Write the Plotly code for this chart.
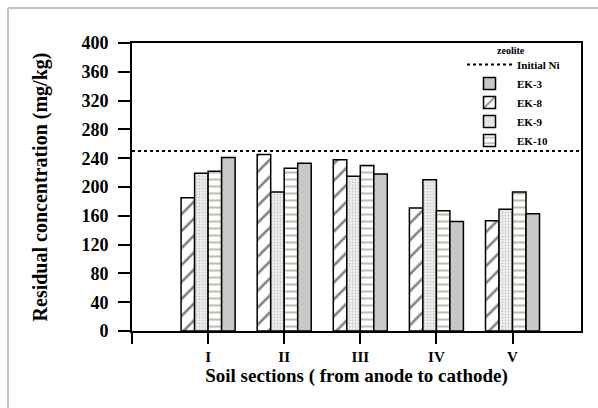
import plotly.graph_objects as go

# Soil section positions and labels
sections = [1, 2, 3, 4, 5]
section_labels = ["I", "II", "III", "IV", "V"]

# Residual Ni concentration (mg/kg) per section
ek8 = [185, 245, 238, 171, 153]
ek9 = [219, 193, 215, 210, 169]
ek10 = [222, 226, 230, 167, 193]
ek3 = [241, 233, 218, 152, 163]
initial_ni = 250

FONT = "Liberation Serif"

fig = go.Figure()

bar_specs = [
    ("EK-8", ek8, dict(color="white", pattern=dict(shape="/", fgcolor="black", bgcolor="white", size=12, solidity=0.22)), 3),
    ("EK-9", ek9, dict(color="#ececec", pattern=dict(shape=".", fgcolor="#a8a8a8", bgcolor="#efefef", size=3, solidity=0.3)), 4),
    ("EK-10", ek10, dict(color="white", pattern=dict(shape="-", fgcolor="#7f7d5e", bgcolor="white", size=7, solidity=0.3)), 5),
    ("EK-3", ek3, dict(color="#c8c8c8"), 2),
]
for name, vals, marker, rank in bar_specs:
    marker = dict(marker, line=dict(color="black", width=1.5))
    fig.add_trace(go.Bar(x=sections, y=vals, name=name, marker=marker, legendrank=rank))

fig.add_trace(go.Scatter(
    x=[0, 5.9], y=[initial_ni, initial_ni], mode="lines", name="Initial Ni",
    line=dict(color="black", width=2, dash="dot"), legendrank=1,
))

fig.update_layout(
    width=598, height=408,
    margin=dict(l=132, r=17, t=43, b=77),
    paper_bgcolor="white", plot_bgcolor="white",
    barmode="group", bargap=0.29, bargroupgap=0,
    font=dict(family=FONT, color="black"),
    legend=dict(
        x=0.735, y=0.976, xanchor="left", yanchor="top",
        bgcolor="rgba(0,0,0,0)", itemwidth=45, tracegroupgap=0,
        font=dict(family=FONT, size=11, weight="bold"),
    ),
    showlegend=True,
    annotations=[dict(
        text="zeolite", xref="paper", yref="paper", x=(511 - 132) / 449, y=(331 - 50) / 288,
        showarrow=False, xanchor="center", yanchor="middle",
        font=dict(family=FONT, size=10, weight="bold"),
    )],
)

fig.update_xaxes(
    range=[0, 5.9], tickmode="array",
    tickvals=[0] + sections, ticktext=[""] + section_labels,
    ticks="outside", ticklen=11, tickwidth=2, tickcolor="black",
    showline=True, linecolor="black", linewidth=2, mirror=True,
    showgrid=False, zeroline=False,
    tickfont=dict(family=FONT, size=15, weight="bold"),
    title=dict(text="Soil sections ( from anode to cathode)", standoff=2,
               font=dict(family=FONT, size=19, weight="bold")),
)
fig.update_yaxes(
    range=[0, 400], tickvals=list(range(0, 401, 40)),
    ticks="outside", ticklen=12, tickwidth=2, tickcolor="black",
    ticklabelstandoff=6,
    showline=True, linecolor="black", linewidth=2, mirror=True,
    showgrid=False, zeroline=False,
    tickfont=dict(family=FONT, size=18, weight="bold"),
    title=dict(text="Residual concentration (mg/kg)", standoff=28,
               font=dict(family=FONT, size=20, weight="bold")),
)

# Light gray page frame along the top and left
fig.add_shape(type="line", xref="paper", yref="paper",
              x0=-124 / 449, y0=-77 / 288, x1=-124 / 449, y1=323 / 288,
              line=dict(color="#c4c4c4", width=2))
fig.add_shape(type="line", xref="paper", yref="paper",
              x0=-124 / 449, y0=323 / 288, x1=466 / 449, y1=323 / 288,
              line=dict(color="#c4c4c4", width=2))

fig.write_html("out.html")
